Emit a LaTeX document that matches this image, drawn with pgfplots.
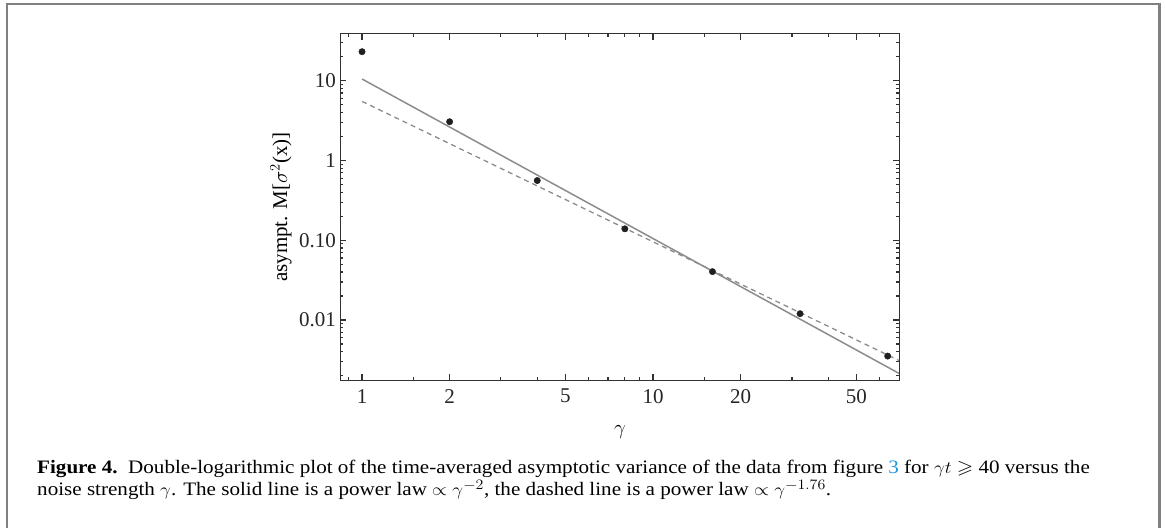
\documentclass[border=0pt]{standalone}
\usepackage{amssymb}
\usepackage{pgfplots}
\pgfplotsset{compat=1.18}
\usepackage{fontspec}
\setmainfont{Liberation Serif}
\definecolor{linkblue}{RGB}{30,150,225}
\definecolor{linegray}{RGB}{140,140,140}
\definecolor{framegray}{RGB}{128,128,128}
\definecolor{axisgray}{RGB}{50,50,50}

\begin{document}
\begin{tikzpicture}[x=1pt,y=1pt]
\path[use as bounding box] (0,0) rectangle (1165,528);
\draw[framegray, line width=2pt] (7,0) -- (7,524);
\draw[framegray, line width=1.3pt] (6,524) -- (1161,524);
\draw[framegray, line width=3pt] (1159.5,0) -- (1159.5,524.6);
\begin{axis}[
  at={(340pt,148pt)}, anchor=south west,
  width=559pt, height=346pt, scale only axis,
  xmode=log, ymode=log,
  xmin=0.84, xmax=70, ymin=0.00177, ymax=38.5,
  xtick={1,2,5,10,20,50}, xticklabels={1,2,5,10,20,50},
  minor xtick={0.9,1.5,3,4,6,7,8,9,15,30,40,60},
  ytick={0.01,0.1,1,10}, yticklabels={0.01,0.10,1,10},
  minor ytick={0.002,0.003,0.004,0.005,0.006,0.007,0.008,0.009,
    0.02,0.03,0.04,0.05,0.06,0.07,0.08,0.09,
    0.2,0.3,0.4,0.5,0.6,0.7,0.8,0.9,
    2,3,4,5,6,7,8,9,20,30},
  tick align=inside,
  major tick length=6pt, minor tick length=3pt,
  every tick/.style={axisgray, line width=1.2pt},
  axis line style={axisgray, line width=1pt},
  tick label style={font=\fontsize{21}{24}\selectfont, text=black!85},
  xticklabel style={inner sep=0pt, anchor=north, yshift=-9pt},
  yticklabel style={inner sep=0pt, anchor=east, xshift=-4pt},
  xlabel={$\gamma$},
  xlabel style={font=\fontsize{21}{24}\selectfont, at={(axis description cs:0.501,-0.149)}, anchor=center, inner sep=0pt},
  ylabel={asympt. M[$\sigma^2$(x)]},
  ylabel style={font=\fontsize{21}{24}\selectfont, at={(axis description cs:-0.086,0.5)}, anchor=south, inner sep=0pt},
  clip=true,
]
\addplot[linegray, line width=1.5pt] coordinates {(1,10.5) (70,0.002143)};
\addplot[linegray, line width=1.3pt, dash pattern=on 5pt off 4pt] coordinates {(1,5.5) (70,0.00311)};
\addplot[only marks, mark=*, mark size=3.2pt, mark options={fill=black!88, draw=black!88}] coordinates {
(1,23.1) (2,3.06) (4,0.56) (8,0.139) (16,0.0404) (32,0.012) (64,0.00353)};
\end{axis}
\node[anchor=base west, inner sep=0pt, xscale=1.11, transform shape, font=\fontsize{19}{21}\selectfont] at (37,54.5)
 {\textbf{Figure 4.}\ \ Double-logarithmic plot of the time-averaged asymptotic variance of the data from figure {\color{linkblue}3} for $\gamma t \geqslant$ 40 versus the};
\node[anchor=base west, inner sep=0pt, xscale=1.11, transform shape, font=\fontsize{19}{21}\selectfont] at (37,32.5)
 {noise strength $\gamma$. The solid line is a power law $\propto \gamma^{-2}$, the dashed line is a power law $\propto \gamma^{-1.76}$.};
\end{tikzpicture}
\end{document}
